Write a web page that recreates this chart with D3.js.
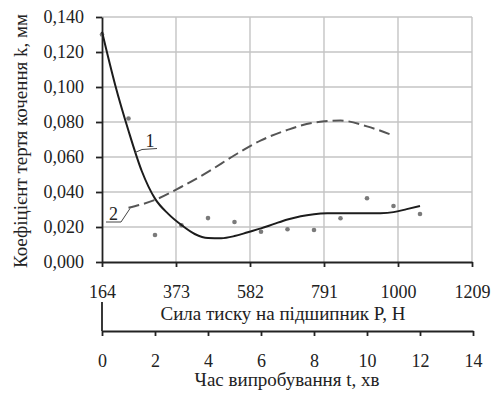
<!DOCTYPE html>
<html>
<head>
<meta charset="utf-8">
<script src="https://cdn.jsdelivr.net/npm/d3@7"></script>
<style>
  body { margin: 0; background: #fff; }
  svg { display: block; }
  svg text { font-family: "Liberation Serif", "Times New Roman", Times, "Nimbus Roman", "DejaVu Serif", serif; }
</style>
</head>
<body>
<div id="chart"></div>
<script>
// ticks
const forceTicks = [164, 373, 582, 791, 1000, 1209];
const timeTicks = [0, 2, 4, 6, 8, 10, 12, 14];
const kTicks = [0, 0.02, 0.04, 0.06, 0.08, 0.1, 0.12, 0.14];

// measured points (time, min -> k, mm)
const measuredT = [0, 1, 2, 3, 4, 5, 6, 7, 8, 9, 10, 11, 12];
const measuredK = [0.130, 0.082, 0.0154, 0.021, 0.0251, 0.0229, 0.0173, 0.0187, 0.0183, 0.025, 0.0364, 0.032, 0.0274];

// curve 1 (solid trend)
const trend1T = [0, 0.5, 1, 1.5, 2, 2.5, 3, 3.5, 4, 4.5, 5, 5.5, 6, 6.5, 7, 7.5, 8, 8.5, 9, 10, 10.5, 11, 11.5, 12];
const trend1K = [0.1316, 0.101, 0.075, 0.052, 0.0362, 0.0275, 0.0211, 0.016, 0.0137, 0.0136, 0.0148, 0.017, 0.0192, 0.0218, 0.0243, 0.0262, 0.0273, 0.0278, 0.0279, 0.0278, 0.0279, 0.0285, 0.0302, 0.032];

// curve 2 (dashed)
const trend2T = [1, 2, 3, 4, 5, 6, 7, 8, 9, 10, 11];
const trend2K = [0.031, 0.0355, 0.043, 0.0515, 0.061, 0.0695, 0.0755, 0.0797, 0.0808, 0.0775, 0.0722];

////////////////////////////////////////////////////////////////////////////////////

const width = 491;
const height = 394;
const serif = '"Liberation Serif", "Times New Roman", Times, "Nimbus Roman", "DejaVu Serif", serif';

const svg = d3.select("#chart").append("svg").attr("width", width).attr("height", height);

const xP = d3.scaleLinear().domain([164, 1209]).range([102, 472]);
const xT = d3.scaleLinear().domain([0, 14]).range([102, 473]);
const y = d3.scaleLinear().domain([0, 0.14]).range([262, 17]);

const uaLocale = d3.formatLocale({ decimal: ",", thousands: " ", grouping: [3], currency: ["", ""] });
const fmtK = uaLocale.format(".3f");

////////////////////////////////////////////////////////////////////////////////////
// grid

const grid = svg.append("g").attr("stroke", "#c4c4c4").attr("stroke-width", 1.4);

grid
  .selectAll("line.h")
  .data(kTicks.slice(1))
  .enter()
  .append("line")
  .attr("x1", xP(164))
  .attr("x2", xP(1209))
  .attr("y1", (d) => y(d))
  .attr("y2", (d) => y(d));

grid
  .selectAll("line.v")
  .data(forceTicks.slice(1))
  .enter()
  .append("line")
  .attr("x1", (d) => xP(d))
  .attr("x2", (d) => xP(d))
  .attr("y1", y(0))
  .attr("y2", y(0.14));

////////////////////////////////////////////////////////////////////////////////////
// axes

function styleAxis(g) {
  g.attr("font-family", serif).attr("font-size", 18);
  g.selectAll("path, line").attr("stroke", "#222").attr("stroke-width", 1.8);
  g.selectAll("text").attr("fill", "#222");
}

svg
  .append("g")
  .attr("transform", `translate(${xP(164)},0)`)
  .call(d3.axisLeft(y).tickValues(kTicks).tickFormat(fmtK).tickSize(6).tickSizeOuter(0).tickPadding(12))
  .call(styleAxis);

svg
  .append("g")
  .attr("transform", `translate(0,${y(0)})`)
  .call(d3.axisBottom(xP).tickValues(forceTicks).tickFormat(d3.format("d")).tickSize(5).tickSizeOuter(0).tickPadding(18))
  .call(styleAxis);

const timeAxisY = 331;

svg
  .append("g")
  .attr("transform", `translate(0,${timeAxisY})`)
  .call(d3.axisBottom(xT).tickValues(timeTicks).tickFormat(d3.format("d")).tickSize(5).tickSizeOuter(0).tickPadding(18))
  .call(styleAxis);

svg
  .append("line")
  .attr("x1", xT(0))
  .attr("x2", xT(0))
  .attr("y1", 302)
  .attr("y2", timeAxisY)
  .attr("stroke", "#222")
  .attr("stroke-width", 1.8);

////////////////////////////////////////////////////////////////////////////////////
// titles

function title(x, yPos, txt, rotate) {
  svg
    .append("text")
    .attr("transform", `translate(${x},${yPos})` + (rotate ? " rotate(-90)" : ""))
    .attr("text-anchor", "middle")
    .attr("font-family", serif)
    .attr("font-size", 19)
    .attr("fill", "#222")
    .text(txt);
}

title(283, 320, "Сила тиску на підшипник P, Н");
title(287, 386, "Час випробування t, хв");
title(27, 141, "Коефіцієнт тертя кочення k, мм", true);

////////////////////////////////////////////////////////////////////////////////////
// data

const points = measuredT.map((t, i) => ({ t: t, k: measuredK[i] }));
const curve1 = trend1T.map((t, i) => ({ t: t, k: trend1K[i] }));
const curve2 = trend2T.map((t, i) => ({ t: t, k: trend2K[i] }));

const line = d3
  .line()
  .x((d) => xT(d.t))
  .y((d) => y(d.k))
  .curve(d3.curveMonotoneX);

svg
  .append("g")
  .selectAll("circle")
  .data(points)
  .enter()
  .append("circle")
  .attr("cx", (d) => xT(d.t))
  .attr("cy", (d) => y(d.k))
  .attr("r", 2.3)
  .attr("fill", "#7a7a7a");

svg
  .append("path")
  .datum(curve2)
  .attr("d", line)
  .attr("fill", "none")
  .attr("stroke", "#555")
  .attr("stroke-width", 2)
  .attr("stroke-dasharray", "11,5");

svg
  .append("path")
  .datum(curve1)
  .attr("d", line)
  .attr("fill", "none")
  .attr("stroke", "#1c1c1c")
  .attr("stroke-width", 2);

////////////////////////////////////////////////////////////////////////////////////
// curve labels with leaders

const leaders = svg.append("g").attr("fill", "none").attr("stroke", "#444").attr("stroke-width", 1);

leaders.append("polyline").attr("points", "135,152.5 142,149.5 157,148.5");
leaders.append("polyline").attr("points", "106,222 121,222 130,208.5");

function curveLabel(x, yPos, txt) {
  svg
    .append("text")
    .attr("x", x)
    .attr("y", yPos)
    .attr("text-anchor", "middle")
    .attr("font-family", serif)
    .attr("font-size", 18)
    .attr("fill", "#222")
    .text(txt);
}

curveLabel(150, 147, "1");
curveLabel(113.5, 220, "2");
</script>
</body>
</html>
